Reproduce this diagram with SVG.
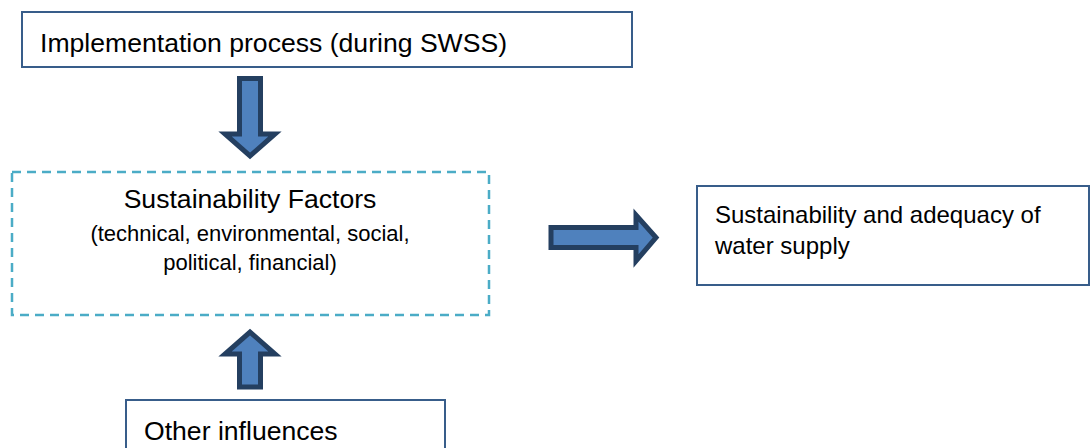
<svg xmlns="http://www.w3.org/2000/svg" width="1090" height="448" viewBox="0 0 1090 448">
<style>
.box{fill:#fff;stroke:#385D8A;stroke-width:2}
.dash{fill:none;stroke:#4BACC6;stroke-width:2.5;stroke-dasharray:9 6}
.arr{fill:#4F81BD;stroke:#243F60;stroke-width:5;stroke-linejoin:miter}
text{font-family:"Liberation Sans",Arial,sans-serif;fill:#000}
.big{font-size:26.6px}
.mid{font-size:22px}
.rt{font-size:24px}
</style>
<rect width="1090" height="448" fill="#fff"/>
<g id="connectors">
<path class="arr" d="M239.5,78.5 H260.5 V134 H275 L250,156 L225,134 H239.5 Z"/>
<path class="arr" d="M551,227.5 V247.5 H636 V261 L656,237.5 L636,215 V227.5 Z"/>
<path class="arr" d="M239.5,387 H260.5 V354 H275 L250,332 L225,354 H239.5 Z"/>
</g>
<g id="implementation">
<rect class="box" x="22" y="12" width="610" height="55"/>
<text class="big" x="40" y="52">Implementation process (during SWSS)</text>
</g>
<g id="factors">
<rect class="dash" x="12" y="172" width="477" height="143"/>
<text class="big" x="250" y="208" text-anchor="middle">Sustainability Factors</text>
<text class="mid" x="250" y="241" text-anchor="middle">(technical, environmental, social,</text>
<text class="mid" x="250" y="270" text-anchor="middle">political, financial)</text>
</g>
<g id="outcome">
<rect class="box" x="697" y="186" width="392" height="99"/>
<text class="rt" x="715" y="223">Sustainability and adequacy of</text>
<text class="rt" x="715" y="254">water supply</text>
</g>
<g id="other">
<rect class="box" x="126" y="400" width="319" height="60"/>
<text class="big" x="144" y="440">Other influences</text>
</g>
</svg>
